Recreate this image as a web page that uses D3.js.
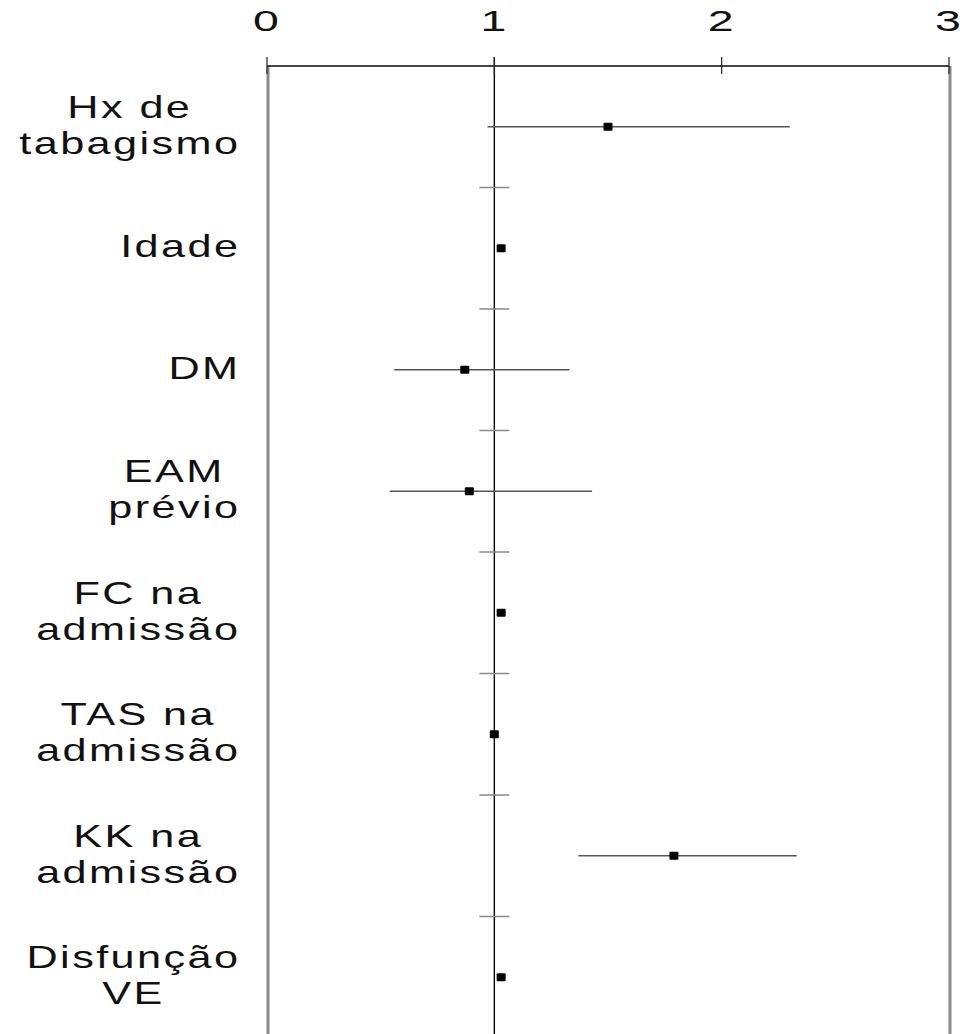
<!DOCTYPE html>
<html>
<head>
<meta charset="utf-8">
<script src="https://cdn.jsdelivr.net/npm/d3@7"></script>
<style>
  html, body { margin: 0; padding: 0; background: #fff; }
  svg { display: block; font-family: "Liberation Sans", Arial, sans-serif; }
</style>
</head>
<body>
<svg id="chart" width="963" height="1034"></svg>
<script>
// row labels (one array of lines per row)
const labels = [
  ["Hx de", "tabagismo"],
  ["Idade"],
  ["DM"],
  ["EAM", "prévio"],
  ["FC na", "admissão"],
  ["TAS na", "admissão"],
  ["KK na", "admissão"],
  ["Disfunção", "VE"]
];
// odds ratio estimates and confidence limits
const estimate = [1.50, 1.03, 0.87, 0.89, 1.03, 1.00, 1.79, 1.03];
const lower    = [0.97, 1.01, 0.56, 0.54, 1.02, 0.99, 1.37, 1.01];
const upper    = [2.30, 1.05, 1.33, 1.43, 1.04, 1.01, 2.33, 1.05];
const xTicks   = [0, 1, 2, 3];

const svg = d3.select("#chart");
const W = 963, H = 1034;
const margin = {top: 66, left: 268, right: 14};
const stretch = 1.35;   // text is drawn wide in the original
const spacing = 1.8;

const x = d3.scaleLinear().domain([0, 3]).range([margin.left - 1, W - margin.right]);
const y = d3.scaleBand().domain(d3.range(labels.length)).range([margin.top, 1038]);

const rows = labels.map((l, i) => ({label: l, est: estimate[i], lo: lower[i], hi: upper[i], i}));

// frame borders
svg.append("g").selectAll("line")
  .data([0, 3]).enter().append("line")
  .attr("x1", d => x(d) + 1).attr("x2", d => x(d) + 1)
  .attr("y1", margin.top).attr("y2", H)
  .attr("stroke", "#8a8a8a").attr("stroke-width", 3);

// reference line at OR = 1
svg.append("line")
  .attr("x1", x(1)).attr("x2", x(1))
  .attr("y1", margin.top - 9).attr("y2", H)
  .attr("stroke", "#000").attr("stroke-width", 1.4);

// top axis
const axis = svg.append("g").attr("transform", `translate(0,${margin.top})`);
axis.append("line")
  .attr("x1", x(0)).attr("x2", x(3))
  .attr("stroke", "#444").attr("stroke-width", 2);
axis.selectAll(".tick").data(xTicks).enter().append("line")
  .attr("x1", d => x(d)).attr("x2", d => x(d))
  .attr("y1", -9).attr("y2", 8)
  .attr("stroke", "#222").attr("stroke-width", 1.2);
axis.selectAll(".tl").data(xTicks).enter().append("text")
  .attr("transform", d => `translate(${x(d) - 1},${-35}) scale(1.55,1)`)
  .attr("text-anchor", "middle")
  .attr("font-size", "30px")
  .attr("fill", "#111")
  .text(d => d);

// separators between rows
svg.append("g").selectAll("line")
  .data(d3.range(1, labels.length)).enter().append("line")
  .attr("x1", x(1) - 15).attr("x2", x(1) + 15)
  .attr("y1", d => y(d)).attr("y2", d => y(d))
  .attr("stroke", "#888").attr("stroke-width", 1.5);

// intervals
const g = svg.append("g");
g.selectAll(".ci").data(rows.filter(d => d.hi - d.lo > 0.1)).enter().append("line")
  .attr("x1", d => x(d.lo)).attr("x2", d => x(d.hi))
  .attr("y1", d => y(d.i) + y.bandwidth() / 2).attr("y2", d => y(d.i) + y.bandwidth() / 2)
  .attr("stroke", "#555").attr("stroke-width", 1.3);

g.selectAll(".pt").data(rows).enter().append("rect")
  .attr("x", d => x(d.est) - 4.5).attr("y", d => y(d.i) + y.bandwidth() / 2 - 4)
  .attr("width", 9).attr("height", 8).attr("rx", 1)
  .attr("fill", "#000");

// row labels: lines centred in a block that ends near the frame
const labelRight = 238, lineH = 36, fs = 32;
rows.forEach(r => {
  const cy = y(r.i) + y.bandwidth() / 2;
  const grp = svg.append("g");
  const texts = r.label.map(t => grp.append("text")
    .attr("font-size", fs + "px")
    .attr("letter-spacing", spacing)
    .attr("fill", "#111")
    .attr("text-anchor", "middle")
    .text(t));
  const widths = texts.map(t => (t.node().getComputedTextLength() - spacing) * stretch);
  const blockW = d3.max(widths);
  const cx = labelRight - blockW / 2;
  const n = r.label.length;
  texts.forEach((t, k) => {
    const base = cy + (k - (n - 1) / 2) * lineH + 9;
    t.attr("transform", `translate(${cx + spacing * stretch / 2},${base}) scale(${stretch},1)`);
  });
});
</script>
</body>
</html>
